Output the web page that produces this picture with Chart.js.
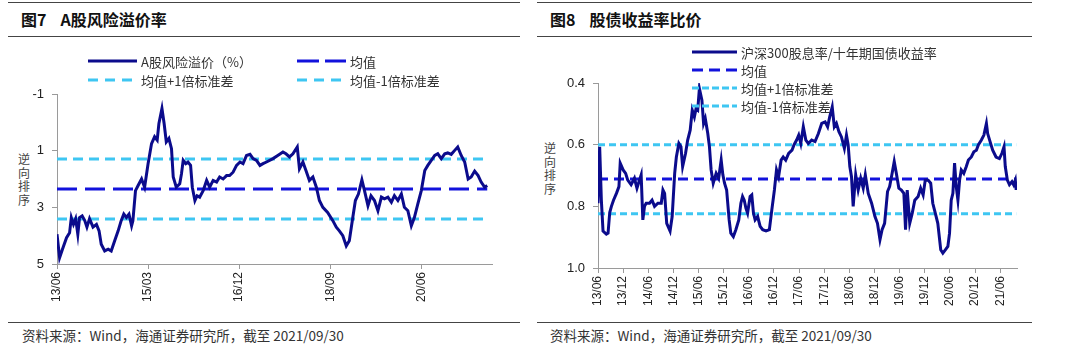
<!DOCTYPE html>
<html>
<head>
<meta charset="utf-8">
<script src="https://cdn.jsdelivr.net/npm/chart.js@4.4.0/dist/chart.umd.min.js"></script>
<style>
  html, body { margin:0; padding:0; background:#fff; }
  body { width:1080px; height:355px; position:relative; overflow:hidden;
         font-family:"Noto Sans CJK SC","Liberation Sans",sans-serif; color:#222; }
  .rule { position:absolute; height:0; border-top:1.5px solid #444; }
  .title { position:absolute; top:7px; font-size:16px; font-weight:bold; color:#111; white-space:nowrap; }
  .title span { margin-left:14px; }
  .src { position:absolute; top:325px; font-size:13.5px; color:#333; white-space:nowrap; }
  .vlab { position:absolute; width:14px; font-size:12px; line-height:13.5px; color:#444; text-align:center; }
  canvas { position:absolute; }
</style>
</head>
<body>
<div class="rule" style="left:8px;top:2px;width:512px"></div>
<div class="rule" style="left:8px;top:36px;width:512px"></div>
<div class="rule" style="left:8px;top:322px;width:512px"></div>
<div class="rule" style="left:537px;top:2px;width:495px"></div>
<div class="rule" style="left:537px;top:36px;width:495px"></div>
<div class="rule" style="left:537px;top:322px;width:495px"></div>
<div class="title" style="left:21px">图7<span>A股风险溢价率</span></div>
<div class="title" style="left:550px">图8<span>股债收益率比价</span></div>
<div class="src" style="left:22px">资料来源：Wind，海通证券研究所，截至 2021/09/30</div>
<div class="src" style="left:550px">资料来源：Wind，海通证券研究所，截至 2021/09/30</div>
<div class="vlab" style="left:17px;top:152px">逆<br>向<br>排<br>序</div>
<div class="vlab" style="left:543px;top:141px">逆<br>向<br>排<br>序</div>
<canvas id="c1" width="520" height="270" style="left:0;top:40px"></canvas>
<canvas id="c2" width="500" height="270" style="left:537px;top:40px"></canvas>
<script>
// ===== Left chart: A股风险溢价率 (x = months since 2013/06) =====
const leftMonths = [0,0.6,1.4,2.2,2.9,3.3,3.8,4.3,4.8,5.2,
  5.8,6.4,6.9,7.5,8.3,9.1,9.7,10.2,11.0,11.8,
  12.5,13.3,14.1,14.8,15.4,16.0,16.6,17.2,17.5,18.1,
  18.7,19.5,20.2,21.0,21.8,22.5,23.1,23.5,24.2,24.7,
  25.2,25.8,26.4,26.8,27.5,28.3,28.7,29.1,29.7,30.2,
  30.8,31.2,31.8,32.3,32.9,33.7,34.5,35.2,36.0,36.8,
  37.5,38.3,39.1,39.8,40.6,41.4,42.2,42.9,43.7,44.5,
  45.2,46.0,46.8,47.5,48.3,49.8,50.9,52.1,52.8,53.6,
  54.4,55.4,55.9,56.7,57.4,58.2,59.0,59.8,60.5,61.3,
  62.4,63.6,64.4,65.1,65.9,66.7,67.4,68.2,68.8,69.5,
  70.3,70.9,71.7,72.4,73.2,74.0,74.8,75.5,76.3,77.1,
  77.8,78.6,79.4,80.1,80.9,81.7,82.4,83.2,84.0,84.8,
  85.5,86.3,87.1,87.8,88.6,89.4,90.1,90.9,91.7,92.4,
  93.2,94.0,94.8,95.5,96.3,97.1,97.8,98.6,99.2];
const leftValues = [3.95,4.78,4.42,4.07,3.9,3.36,3.6,3.4,3.95,3.36,
  3.3,3.47,3.7,3.4,3.7,3.6,3.83,4.3,4.54,4.48,
  4.54,4.18,3.83,3.47,3.24,3.36,3.24,3.65,3.47,2.41,
  2.23,2.0,2.29,1.46,0.75,0.51,0.63,0.04,-0.49,0.04,
  0.69,0.57,0.93,1.93,2.29,2.17,1.82,1.34,1.46,1.4,
  1.52,2.29,2.76,2.59,2.64,2.41,2.05,2.29,2.05,2.11,
  1.93,2.0,1.88,1.88,1.76,1.52,1.4,1.46,1.17,1.13,
  1.28,1.34,1.52,1.46,1.4,1.28,1.17,1.05,1.11,1.22,
  1.11,0.87,1.64,1.4,1.7,2.05,1.93,2.29,2.76,3.0,
  3.18,3.47,3.7,3.83,4.0,4.36,4.18,3.36,2.76,2.53,
  2.03,2.41,2.94,2.59,2.76,3.12,2.64,2.7,2.64,2.82,
  2.59,2.76,2.53,3.0,3.12,3.65,3.36,2.88,2.41,1.7,
  1.52,1.34,1.17,1.11,1.28,1.11,1.08,1.13,0.99,0.87,
  1.17,1.4,2.0,1.93,1.72,1.88,2.11,2.29,2.23];
const leftMean = 2.35;
const leftPlusStd = 3.41;
const leftMinusStd = 1.29;
const leftTickMonths = [0,21,42,63,84];
const leftTickLabels = ['13/06','15/03','16/12','18/09','20/06'];
const leftYTicks = [-1,1,3,5];
const leftSeriesNames = ['A股风险溢价（%）','均值','均值+1倍标准差','均值-1倍标准差'];

// ===== Right chart: 股债收益率比价 =====
const rightMonths = [0.0,0.4,0.8,1.2,2.0,2.4,2.8,3.2,3.7,4.4,
  5.0,5.3,6.0,6.6,7.1,7.9,8.7,9.3,9.9,10.3,
  10.7,11.1,11.5,12.3,12.9,13.5,14.3,15.1,15.5,15.9,
  16.4,17.2,17.7,18.3,18.7,19.3,19.8,20.2,20.9,21.4,
  22.0,22.5,23.0,23.4,23.8,24.2,24.8,25.2,25.6,26.2,
  26.6,27.0,27.5,28.2,28.8,29.4,29.8,30.2,30.7,31.3,
  31.7,32.3,32.9,33.6,34.1,34.5,34.9,35.3,35.7,36.3,
  36.7,37.1,37.5,38.1,38.7,39.3,40.1,40.9,41.5,42.1,
  42.6,43.1,43.7,44.2,44.8,45.5,46.3,46.8,47.4,47.9,
  48.4,49.0,49.6,50.2,51.0,51.8,52.6,53.4,54.2,54.8,
  55.3,55.9,56.4,56.9,57.5,58.1,58.8,59.3,59.7,60.1,
  60.5,60.9,61.5,62.1,62.7,63.3,63.8,64.5,65.3,66.1,
  66.7,67.3,67.8,68.4,69.1,69.6,70.2,70.7,71.2,71.8,
  72.4,73.0,73.4,73.8,74.4,75.0,75.6,76.4,77.0,77.6,
  78.1,78.8,79.4,79.9,80.5,81.1,81.8,82.3,82.9,83.5,
  83.9,84.3,84.7,85.1,85.5,85.9,86.3,86.7,87.3,87.9,
  88.4,89.1,89.7,90.3,90.8,91.5,92.1,92.7,93.0,93.7,
  94.2,95.0,95.8,96.4,96.9,97.2,97.7,98.2,98.8,99.2,
  99.6,99.8];
const rightValues = [0.79,0.607,0.78,0.88,0.89,0.887,0.82,0.80,0.78,0.758,
  0.736,0.66,0.682,0.693,0.715,0.73,0.709,0.741,0.715,0.698,
  0.844,0.80,0.79,0.79,0.78,0.80,0.79,0.79,0.747,0.758,
  0.855,0.88,0.833,0.693,0.64,0.596,0.607,0.671,0.628,0.585,
  0.553,0.488,0.51,0.483,0.488,0.418,0.456,0.531,0.515,0.564,
  0.607,0.682,0.725,0.693,0.709,0.65,0.698,0.725,0.747,0.844,
  0.887,0.898,0.876,0.844,0.79,0.768,0.78,0.806,0.822,0.768,
  0.763,0.822,0.844,0.833,0.865,0.876,0.88,0.876,0.81,0.747,
  0.682,0.704,0.65,0.64,0.65,0.628,0.618,0.60,0.585,0.569,
  0.596,0.542,0.585,0.596,0.585,0.59,0.564,0.531,0.526,0.542,
  0.51,0.478,0.542,0.531,0.558,0.575,0.612,0.569,0.60,0.671,
  0.704,0.80,0.698,0.747,0.709,0.741,0.698,0.758,0.79,0.833,
  0.855,0.908,0.876,0.855,0.752,0.736,0.693,0.655,0.693,0.741,
  0.747,0.758,0.876,0.747,0.855,0.822,0.78,0.768,0.741,0.763,
  0.715,0.715,0.725,0.79,0.822,0.855,0.941,0.952,0.941,0.93,
  0.887,0.78,0.758,0.66,0.736,0.78,0.715,0.682,0.693,0.671,
  0.65,0.64,0.623,0.618,0.60,0.585,0.569,0.531,0.564,0.596,
  0.618,0.64,0.645,0.628,0.607,0.671,0.715,0.73,0.72,0.73,
  0.715,0.747];
const rightMean = 0.711;
const rightPlusStd = 0.824;
const rightMinusStd = 0.60;
const rightTickMonths = [0,6,12,18,24,30,36,42,48,54,60,66,72,78,84,90,96];
const rightTickLabels = ['13/06','13/12','14/06','14/12','15/06','15/12','16/06','16/12','17/06','17/12','18/06','18/12','19/06','19/12','20/06','20/12','21/06'];
const rightYTicks = [0.4,0.6,0.8,1.0];
const rightSeriesNames = ['沪深300股息率/十年期国债收益率','均值','均值+1倍标准差','均值-1倍标准差'];

// ===== styling =====
const MAIN = '#0b0b8c', MEAN = '#1212dc', STD = '#3ec6f2';
const AXIS = '#9a9a9a';
const TICKFONT = '"Liberation Sans", Arial, sans-serif';
const CJK = '"Noto Sans CJK SC", sans-serif';

const legendPlugin = {
  id: 'posLegend',
  afterDraw(chart, args, opts) {
    const ctx = chart.ctx;
    opts.items.forEach((it, i) => {
      const ds = chart.data.datasets[i];
      ctx.save();
      ctx.strokeStyle = ds.borderColor;
      ctx.lineWidth = 3;
      ctx.setLineDash(it.dash);
      ctx.beginPath();
      ctx.moveTo(it.x, it.y);
      ctx.lineTo(it.x + it.w, it.y);
      ctx.stroke();
      ctx.setLineDash([]);
      ctx.fillStyle = '#333';
      ctx.font = '13px ' + CJK;
      ctx.textBaseline = 'middle';
      ctx.textAlign = 'left';
      ctx.fillText(ds.label, it.x + it.w + 4, it.y + 1);
      ctx.restore();
    });
  }
};

function zip(xs, ys) { return xs.map((x, i) => ({ x: x, y: ys[i] })); }
function flat(v, x0, x1) { return [{ x: x0, y: v }, { x: x1, y: v }]; }

function makeChart(id, cfg) {
  const xEnd = cfg.months[cfg.months.length - 1];
  return new Chart(document.getElementById(id), {
    type: 'line',
    data: {
      datasets: [
        { label: cfg.names[0], data: zip(cfg.months, cfg.values), borderColor: MAIN, borderWidth: 3, pointRadius: 0, tension: 0 },
        { label: cfg.names[1], data: flat(cfg.mean, 0, xEnd), borderColor: MEAN, borderWidth: 3, borderDash: cfg.meanDash, pointRadius: 0 },
        { label: cfg.names[2], data: flat(cfg.plus, 0, xEnd), borderColor: STD, borderWidth: 3, borderDash: cfg.stdDash, pointRadius: 0 },
        { label: cfg.names[3], data: flat(cfg.minus, 0, xEnd), borderColor: STD, borderWidth: 3, borderDash: cfg.stdDash, pointRadius: 0 }
      ]
    },
    options: {
      responsive: false,
      animation: false,
      devicePixelRatio: 1,
      layout: { padding: { top: cfg.padTop, right: cfg.padRight, left: 0, bottom: 0 } },
      plugins: { legend: { display: false }, tooltip: { enabled: false }, posLegend: { items: cfg.legend } },
      scales: {
        x: {
          type: 'linear', min: 0, max: cfg.xMax,
          afterBuildTicks: s => { s.ticks = cfg.tickMonths.map(v => ({ value: v })); },
          afterFit: s => { s.height = cfg.xHeight; },
          ticks: {
            autoSkip: false, minRotation: 90, maxRotation: 90, padding: 3,
            color: '#222', font: { family: TICKFONT, size: 12 },
            callback: v => { const i = cfg.tickMonths.indexOf(v); return i >= 0 ? cfg.tickLabels[i] : ''; }
          },
          grid: { drawOnChartArea: false, drawTicks: true, tickLength: 5, tickColor: AXIS, color: AXIS },
          border: { display: true, color: AXIS, width: 1 }
        },
        y: {
          type: 'linear', reverse: true, min: cfg.yTicks[0], max: cfg.yTicks[cfg.yTicks.length - 1],
          afterBuildTicks: s => { s.ticks = cfg.yTicks.map(v => ({ value: v })); },
          afterFit: s => { s.width = cfg.yWidth; },
          ticks: {
            padding: 8, color: '#222', font: { family: TICKFONT, size: 13 },
            callback: v => cfg.yFmt(v)
          },
          grid: { drawOnChartArea: false, drawTicks: true, tickLength: 5, tickColor: AXIS, color: AXIS },
          border: { display: true, color: AXIS, width: 1 }
        }
      }
    },
    plugins: [legendPlugin]
  });
}

makeChart('c1', {
  months: leftMonths, values: leftValues, mean: leftMean, plus: leftPlusStd, minus: leftMinusStd,
  names: leftSeriesNames, tickMonths: leftTickMonths, tickLabels: leftTickLabels, yTicks: leftYTicks,
  yFmt: v => String(v), xMax: 100.3, padTop: 54, padRight: 28, xHeight: 46, yWidth: 57,
  meanDash: [20, 8], stdDash: [10, 6],
  legend: [
    { x: 88, y: 21, w: 49, dash: [] },
    { x: 297, y: 21, w: 49, dash: [22, 6] },
    { x: 88, y: 40, w: 49, dash: [10, 7] },
    { x: 297, y: 40, w: 49, dash: [10, 7] }
  ]
});

makeChart('c2', {
  months: rightMonths, values: rightValues, mean: rightMean, plus: rightPlusStd, minus: rightMinusStd,
  names: rightSeriesNames, tickMonths: rightTickMonths, tickLabels: rightTickLabels, yTicks: rightYTicks,
  yFmt: v => v.toFixed(1), xMax: 100, padTop: 43, padRight: 20, xHeight: 42, yWidth: 61,
  meanDash: [10, 6], stdDash: [7, 4],
  legend: [
    { x: 155, y: 12, w: 45, dash: [] },
    { x: 155, y: 30, w: 45, dash: [11, 6] },
    { x: 155, y: 48, w: 45, dash: [7, 3] },
    { x: 155, y: 66, w: 45, dash: [7, 3] }
  ]
});
</script>
</body>
</html>
